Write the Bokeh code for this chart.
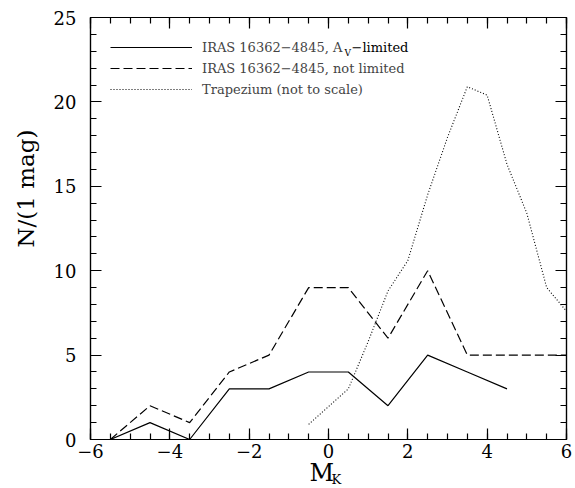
from bokeh.plotting import figure
from bokeh.models import (Range1d, SingleIntervalTicker, LinearAxis, Legend, LegendItem, Label, Title)
from bokeh.embed import file_html
from bokeh.resources import INLINE

# ---- data ----
mk_bins = [-5.5, -4.5, -3.5, -2.5, -1.5, -0.5, 0.5, 1.5, 2.5, 3.5, 4.5]
n_av_limited = [0, 1, 0, 3, 3, 4, 4, 2, 5, 4, 3]

mk_bins_all = [-5.5, -4.5, -3.5, -2.5, -1.5, -0.5, 0.5, 1.5, 2.5, 3.5, 4.5, 5.5, 6.5]
n_not_limited = [0, 2, 1, 4, 5, 9, 9, 6, 10, 5, 5, 5, 5]

mk_trap = [-0.5, 0.5, 1.0, 1.5, 2.0, 2.5, 3.0, 3.5, 4.0, 4.5, 5.0, 5.5, 6.0]
n_trap = [0.9, 3.0, 5.8, 8.8, 10.6, 14.5, 17.9, 20.9, 20.4, 16.3, 13.4, 9.0, 7.6]

legend_labels = ["IRAS 16362\u22124845, A", "IRAS 16362\u22124845, not limited",
                 "Trapezium (not to scale)"]
xtick_labels = {-6: "\u22126", -4: "\u22124", -2: "\u22122", 0: "0", 2: "2", 4: "4", 6: "6"}

FONT = "DejaVu Serif"

p = figure(width=575, height=488, output_backend="svg", toolbar_location=None,
           x_range=Range1d(-6, 6), y_range=Range1d(0, 25),
           min_border_left=89, min_border_right=9, min_border_top=17, min_border_bottom=49,
           x_axis_type=None, y_axis_type=None)
p.background_fill_color = "white"
p.border_fill_color = "white"
p.grid.visible = False
p.outline_line_color = "black"
p.outline_line_width = 1.2


def style_axis(ax, show_labels):
    ax.axis_line_color = "black"
    ax.axis_line_width = 1.2
    ax.major_tick_in = 11
    ax.major_tick_out = 0
    ax.minor_tick_in = 6
    ax.minor_tick_out = 0
    ax.major_tick_line_color = "black"
    ax.minor_tick_line_color = "black"
    ax.major_tick_line_width = 1.2
    ax.minor_tick_line_width = 1.2
    ax.major_label_text_font = FONT
    if show_labels:
        ax.major_label_text_color = "black"
        ax.major_label_text_font_size = "18px"
    else:
        ax.major_label_text_color = None
        ax.major_label_text_font_size = "1px"
        ax.major_label_standoff = 0


xb = LinearAxis(ticker=SingleIntervalTicker(interval=2, num_minor_ticks=4))
style_axis(xb, True)
xb.major_label_standoff = 4
xb.major_label_overrides = xtick_labels
p.add_layout(xb, "below")

xt = LinearAxis(ticker=SingleIntervalTicker(interval=2, num_minor_ticks=4))
style_axis(xt, False)
p.add_layout(xt, "above")

yl = LinearAxis(ticker=SingleIntervalTicker(interval=5, num_minor_ticks=5))
style_axis(yl, True)
yl.major_label_standoff = 14
p.add_layout(yl, "left")

yr = LinearAxis(ticker=SingleIntervalTicker(interval=5, num_minor_ticks=5))
style_axis(yr, False)
p.add_layout(yr, "right")

r1 = p.line(mk_bins, n_av_limited, line_color="black", line_width=1.2)
r2 = p.line(mk_bins_all, n_not_limited, line_color="black", line_width=1.2, line_dash="9 4")
r3 = p.line(mk_trap, n_trap, line_color="black", line_width=1.1, line_dash="1 2")

legend = Legend(items=[LegendItem(label=legend_labels[0], renderers=[r1]),
                       LegendItem(label=legend_labels[1], renderers=[r2]),
                       LegendItem(label=legend_labels[2], renderers=[r3])],
                location="top_left", margin=20, padding=0, spacing=1,
                glyph_width=82, glyph_height=20, label_standoff=10,
                label_text_font=FONT, label_text_font_size="13px",
                label_height=20,
                background_fill_alpha=0, border_line_color=None)
p.add_layout(legend)

# subscript V and rest of first legend entry (frame-relative screen units)
p.add_layout(Label(x=254, y=387, x_units="screen", y_units="screen", text="V",
                   text_font=FONT, text_font_size="9px", text_baseline="middle",
                   text_align="left", text_color="black"))
p.add_layout(Label(x=261, y=392, x_units="screen", y_units="screen", text="\u2212limited",
                   text_font=FONT, text_font_size="13px", text_baseline="middle",
                   text_align="left", text_color="black"))

# axis titles as side titles
ytitle = Title(text="N/(1 mag)", align="left", offset=192, standoff=22,
               vertical_align="middle", text_font=FONT, text_font_size="23px",
               text_font_style="normal", text_color="black")
p.add_layout(ytitle, "left")

mtitle = Title(text="M", align="left", offset=219, standoff=-4,
               vertical_align="top", text_font=FONT, text_font_size="24px",
               text_font_style="normal", text_color="black")
p.add_layout(mtitle, "below")
ktitle = Title(text="K", align="left", offset=241, standoff=-30,
               vertical_align="top", text_font=FONT, text_font_size="13px",
               text_font_style="normal", text_color="black")
p.add_layout(ktitle, "below")

open("out.html", "w").write(file_html(p, INLINE))
